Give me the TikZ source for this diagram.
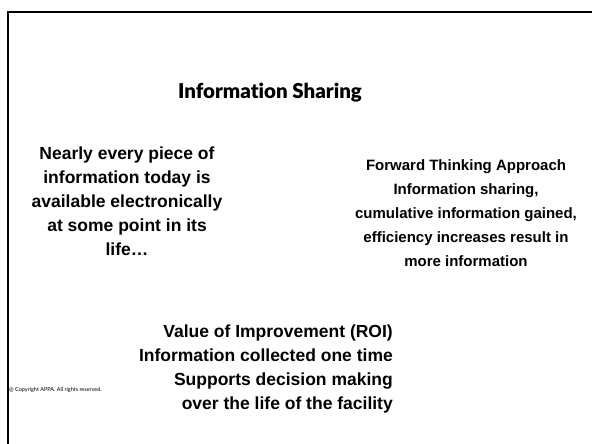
\documentclass[tikz,border=0pt]{standalone}
\usepackage{fontspec}
\setmainfont{Liberation Sans}
\newfontfamily\titlefont[Ligatures=NoCommon]{Lato Black}
\newfontfamily\notefont{Lato}
\usetikzlibrary{positioning}

\tikzset{
  bodytext/.style={font=\bfseries\fontsize{17.5}{24}\selectfont,
    align=center, inner sep=0pt},
  frameline/.style={line width=2pt}
}

\begin{document}
\begin{tikzpicture}[x=1pt,y=-1pt]
  \useasboundingbox (0,0) rectangle (592,444);
  \draw[frameline] (8,444) -- (8,12) -- (592,12);
  \node[font=\titlefont\fontsize{20.5}{22}\selectfont, inner sep=0pt]
    (title) at (270,93) {Information Sharing};
  \node[bodytext] (everypiece) at (127,201) {Nearly every piece of\\
    information today is\\ available electronically\\
    at some point in its\\ life\ldots};
  \node[bodytext, font=\bfseries\fontsize{15}{24}\selectfont] (forward) at (466,213)
    {Forward Thinking Approach\\
    Information sharing,\\ cumulative information gained,\\
    efficiency increases result in\\ more information};
  \node[bodytext, align=right, anchor=east] (roi) at (393,369)
    {Value of Improvement (ROI)\\ Information collected one time\\
    Supports decision making\\ over the life of the facility};
  \node[font=\notefont\fontsize{5.5}{6}\selectfont, anchor=west, inner sep=0pt]
    (copyright) at (9,390) {@ Copyright APPA. All rights reserved.};
\end{tikzpicture}
\end{document}
